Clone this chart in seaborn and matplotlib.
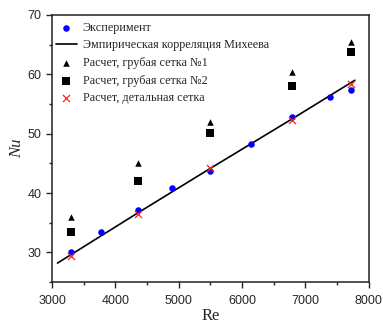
import matplotlib
matplotlib.use("Agg")
import matplotlib.pyplot as plt
import seaborn as sns
import pandas as pd
from matplotlib.ticker import MultipleLocator

# эксперимент
re_exp = [3300, 3775, 4360, 4900, 5490, 6140, 6790, 7385, 7725]
nu_exp = [30.0, 33.4, 37.1, 40.85, 43.7, 48.2, 52.8, 56.2, 57.3]

# эмпирическая корреляция Михеева (точки)
re_corr = [3085, 4360, 5490, 6790, 7780]
nu_corr = [28.2, 36.7, 44.1, 52.5, 59.0]

# расчеты
re_calc = [3300, 4360, 5490, 6790, 7725]
nu_grid1 = [36.0, 45.0, 51.9, 60.4, 65.5]
nu_grid2 = [33.4, 42.0, 50.1, 58.0, 63.8]
nu_fine = [29.4, 36.5, 44.2, 52.3, 58.4]

sns.set_style("ticks")
plt.rcParams['font.family'] = ['Liberation Sans', 'DejaVu Sans']

fig = plt.figure(figsize=(3.83, 3.25), dpi=100)
ax = fig.add_axes([0.136, 0.132, 0.827, 0.822])

df_exp = pd.DataFrame({'Re': re_exp, 'Nu': nu_exp})
df_corr = pd.DataFrame({'Re': re_corr, 'Nu': nu_corr})
df_calc = pd.DataFrame({'Re': re_calc, 'g1': nu_grid1, 'g2': nu_grid2, 'fine': nu_fine})

sns.scatterplot(data=df_exp, x='Re', y='Nu', ax=ax, color='#0000ff', marker='o',
                s=22, edgecolor='#0000ff', linewidth=0, label='Эксперимент', zorder=3)
sns.lineplot(data=df_corr, x='Re', y='Nu', ax=ax, color='black', linewidth=1.2,
             label='Эмпирическая корреляция Михеева', zorder=2)
sns.scatterplot(data=df_calc, x='Re', y='g1', ax=ax, color='black', marker='^',
                s=22, linewidth=0, label='Расчет, грубая сетка №1', zorder=3)
sns.scatterplot(data=df_calc, x='Re', y='g2', ax=ax, color='black', marker='s',
                s=30, linewidth=0, label='Расчет, грубая сетка №2', zorder=3)
sns.scatterplot(data=df_calc, x='Re', y='fine', ax=ax, color='#ff2020', marker='x',
                s=26, linewidth=0.9, label='Расчет, детальная сетка', zorder=4)

ax.set_xlim(3000, 8000)
ax.set_ylim(25, 70)
ax.xaxis.set_major_locator(MultipleLocator(1000))
ax.xaxis.set_minor_locator(MultipleLocator(500))
ax.yaxis.set_major_locator(MultipleLocator(10))
ax.yaxis.set_minor_locator(MultipleLocator(5))
ax.tick_params(which='major', direction='out', length=4, width=1, labelsize=9)
ax.tick_params(axis='x', which='major', pad=5)
ax.tick_params(which='minor', direction='out', length=2.5, width=1)
for sp in ax.spines.values():
    sp.set_linewidth(1.1)
    sp.set_color('#222222')

ax.set_xlabel('Re', family=['Liberation Serif'], fontsize=12, labelpad=1)
ax.set_ylabel('Nu', family=['Liberation Serif'], style='italic', fontsize=12, labelpad=2)

leg = ax.legend(loc='upper left', bbox_to_anchor=(0.0, 0.988), frameon=False,
                prop={'family': 'Liberation Serif', 'size': 8.7},
                handlelength=1.75, handletextpad=0.47, labelspacing=0.47,
                borderpad=0.25, borderaxespad=0.05)

fig.savefig('out.png', dpi=100)
